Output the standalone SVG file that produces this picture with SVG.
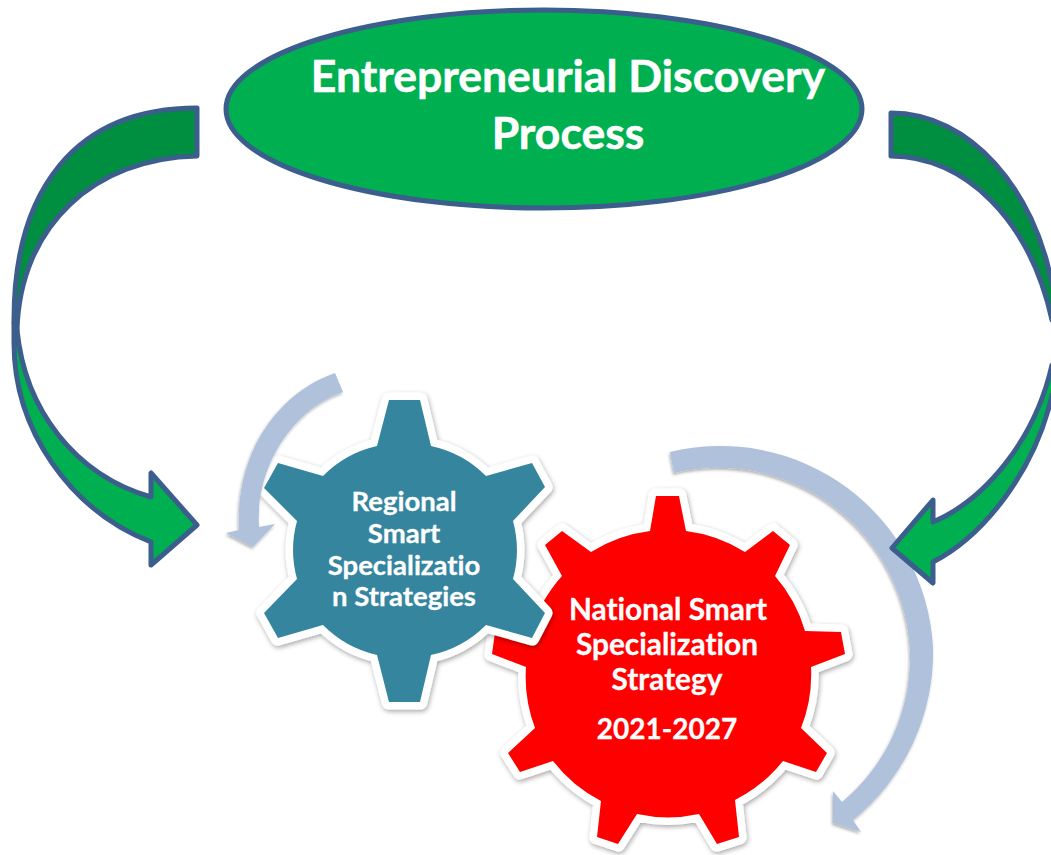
<svg xmlns="http://www.w3.org/2000/svg" width="1051" height="855" viewBox="0 0 1051 855">
<style>
text{font-family:"Lato","Noto Sans","Liberation Sans",sans-serif;font-weight:700;fill:#fff;text-anchor:middle;font-variant-ligatures:none}
.title{font-size:44.5px;stroke:#fff;stroke-width:.5}
.gear{paint-order:stroke;stroke:#fff;stroke-width:15;stroke-linejoin:round;filter:url(#sh)}
.g1{font-size:27.5px;stroke:#fff;stroke-width:.3}
.g2{font-size:29.8px;stroke:#fff;stroke-width:.3}
.year{font-size:28px}
.big{stroke:#3b5e8c;stroke-width:5;stroke-linejoin:round}
.dark{fill:#008e40}
.light{fill:#00b050}
.pale{fill:#b0c1dc;filter:url(#sh2)}
</style>
<defs>
<filter id="sh" x="-10%" y="-10%" width="120%" height="120%"><feDropShadow dx="1" dy="2" stdDeviation="2.5" flood-color="#000" flood-opacity=".35"/></filter>
<filter id="sh2" x="-15%" y="-15%" width="130%" height="130%"><feDropShadow dx="-1" dy="2" stdDeviation="1.5" flood-color="#000" flood-opacity=".3"/></filter>
</defs>
<rect width="1051" height="855" fill="#fff"/>
<g id="node-national">
<path class="gear" fill="#ff0000" d="M656,496H679L686,531A144,144 0 0 1 745,552L773,531L790,545L775,576A144,144 0 0 1 805,631L841,632L845,654L811,667A144,144 0 0 1 801,728L827,753L816,772L783,761A144,144 0 0 1 735,800L739,837L717,844L699,814A144,144 0 0 1 637,814L618,844L597,837L601,801A144,144 0 0 1 553,761L520,772L508,753L535,728A144,144 0 0 1 526,667L492,654L495,632L531,631A144,144 0 0 1 562,576L545,545L562,531L591,552A144,144 0 0 1 650,531Z"/>
<text class="g2" x="668" y="620">National Smart</text>
<text class="g2" x="667" y="655">Specialization</text>
<text class="g2" x="667" y="690">Strategy</text>
<text class="g2 year" x="667" y="739">2021-2027</text>
</g>
<g id="node-regional">
<path class="gear" fill="#34859f" d="M389,400H420L431,446A110,110 0 0 1 486,476L532,463L545,487L513,521A110,110 0 0 1 513,579L545,613L532,638L486,625A110,110 0 0 1 431,655L420,702H389L377,655A110,110 0 0 1 323,625L278,638L264,613L297,579A110,110 0 0 1 297,521L264,488L278,463L323,476A110,110 0 0 1 377,446Z"/>
<text class="g1" x="404" y="511">Regional</text>
<text class="g1" x="404" y="543">Smart</text>
<text class="g1" x="404" y="575">Specializatio</text>
<text class="g1" x="404" y="606">n Strategies</text>
</g>
<g id="connectors">
<path class="pale" d="M335,373C280,392 235,450 239,530L226,533L253,547L275,524L259,527C255,465 295,408 343,392Z"/>
<path class="pale" d="M670,452A213,213 0 0 1 933,647A215,215 0 0 1 853,820L861,832L833,823V791L842,802A188,188 0 0 0 910,653A192,192 0 0 0 674,473Z"/>
<path class="big dark" d="M197,108C75,108 14,190 14,320L15,332L17,330C20,225 95,158 197,156Z"/>
<path class="big light" d="M17,330L14,322V343C14,430 70,510 151,542V565L197,525L151,473V497C75,475 25,410 17,330Z"/>
<path class="big dark" d="M891,113C970,113 1035,190 1052,285L1060,300V320H1052C1030,220 965,156 891,156Z"/>
<path class="big light" d="M1060,365H1052C1035,440 985,500 933,522V500L892,548L933,583V562C985,535 1035,470 1052,395H1060Z"/>
</g>
<g id="node-discovery">
<ellipse cx="544" cy="109" rx="318" ry="99" fill="#00b050" stroke="#3b5e8c" stroke-width="5"/>
<text class="title" x="568" y="92">Entrepreneurial Discovery</text>
<text class="title" x="568" y="149">Process</text>
</g>
</svg>
